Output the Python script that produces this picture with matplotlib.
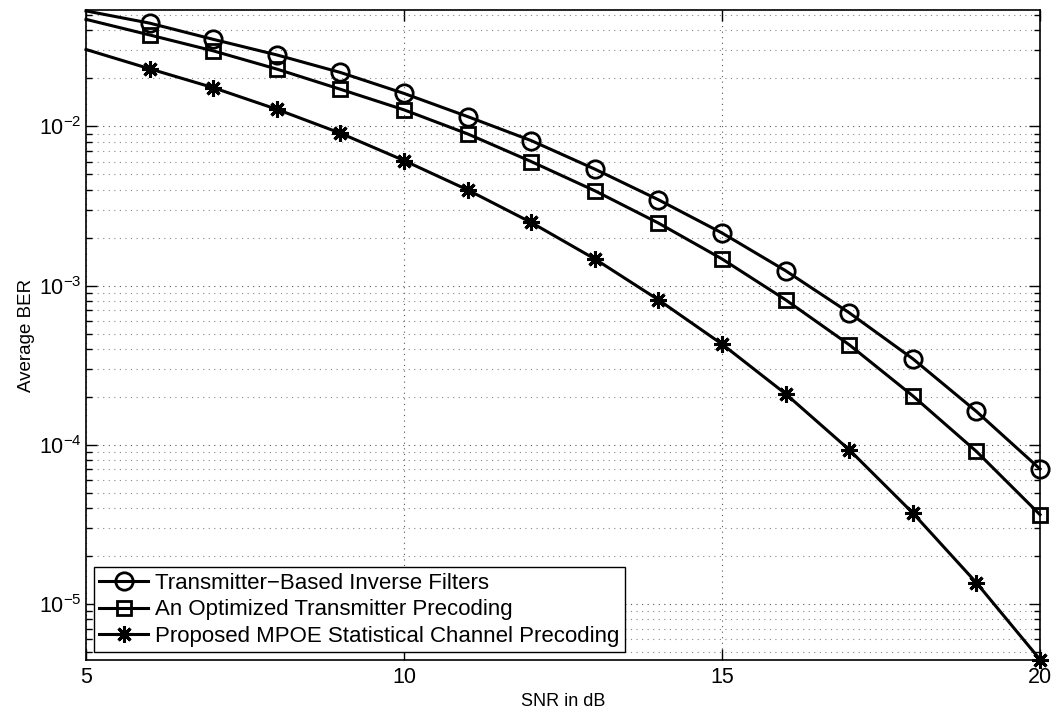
import matplotlib
matplotlib.use("Agg")
import matplotlib.pyplot as plt
from matplotlib.ticker import LogLocator, FixedLocator, NullFormatter

snr = [5, 6, 7, 8, 9, 10, 11, 12, 13, 14, 15, 16, 17, 18, 19, 20]
ber_inverse = [0.0531, 0.0445, 0.0352, 0.0281, 0.0218, 0.0161, 0.01152, 0.00814,
               0.00539, 0.00346, 0.00214, 0.00124, 0.000675, 0.000347, 0.000162, 7.05e-5]
ber_optimized = [0.0470, 0.0375, 0.0298, 0.0229, 0.0171, 0.0127, 0.00897, 0.00601,
                 0.00394, 0.00247, 0.00147, 0.000814, 0.000425, 0.000203, 9.09e-5, 3.64e-5]
ber_proposed = [0.0304, 0.0230, 0.0175, 0.0128, 0.00906, 0.00610, 0.00399, 0.00249,
                0.00147, 0.000814, 0.000429, 0.000209, 9.31e-5, 3.73e-5, 1.36e-5, 4.48e-6]
labels = ["Transmitter\u2212Based Inverse Filters",
          "An Optimized Transmitter Precoding",
          "Proposed MPOE Statistical Channel Precoding"]
x_ticks = [5, 10, 15, 20]

plt.rcParams['font.family'] = ['Liberation Sans', 'DejaVu Sans']
plt.rcParams['mathtext.fontset'] = 'custom'
plt.rcParams['mathtext.rm'] = 'Liberation Sans'
plt.rcParams['mathtext.it'] = 'Liberation Sans'
plt.rcParams['mathtext.default'] = 'regular'

fig = plt.figure(figsize=(10.56, 7.15), dpi=100)
ax = fig.add_axes([86/1056, 55/715, (1040-86)/1056, (660-10)/715])

me = list(range(1, len(snr)))
ax.semilogy(snr, ber_inverse, color='k', lw=2.2, marker='o', ms=12.5, mfc='none',
            mew=2.0, markevery=me, label=labels[0], clip_on=False)
ax.semilogy(snr, ber_optimized, color='k', lw=2.2, marker='s', ms=10, mfc='none',
            mew=2.0, markevery=me, label=labels[1], clip_on=False)
ax.semilogy(snr, ber_proposed, color='k', lw=2.2, marker=(8, 2, 0), ms=12, mfc='k',
            mew=2.2, markevery=me, label=labels[2], clip_on=False)

ax.set_xlim(5, 20)
ax.set_ylim(4.45e-6, 0.0538)
ax.xaxis.set_major_locator(FixedLocator(x_ticks))
ax.set_xticklabels([str(t) for t in x_ticks])
ax.yaxis.set_major_locator(LogLocator(base=10, numticks=10))
ax.yaxis.set_minor_locator(LogLocator(base=10, subs=range(2, 10), numticks=20))
ax.yaxis.set_minor_formatter(NullFormatter())

ax.grid(True, which='major', axis='both', linestyle=(0, (1, 4)), color='#555555', lw=0.8)
ax.grid(True, which='minor', axis='y', linestyle=(0, (1, 4)), color='#888888', lw=0.8)

ax.tick_params(which='both', direction='in', top=True, right=True, labelsize=15.5, width=1)
ax.tick_params(which='major', length=8)
ax.tick_params(which='minor', length=4)
ax.tick_params(axis='x', pad=5)
ax.tick_params(axis='y', pad=3)
for s in ax.spines.values():
    s.set_linewidth(1.2)

ax.set_xlabel("SNR in dB", fontsize=13, labelpad=4)
ax.set_ylabel("Average BER", fontsize=13.5, labelpad=3)

leg = ax.legend(loc='lower left', fontsize=16, frameon=True, fancybox=False,
                edgecolor='k', framealpha=1, borderaxespad=0.35, handlelength=2.2,
                handletextpad=0.3, borderpad=0.25, labelspacing=0.24)
leg.get_frame().set_linewidth(1.0)

fig.savefig("out.png", dpi=100)
